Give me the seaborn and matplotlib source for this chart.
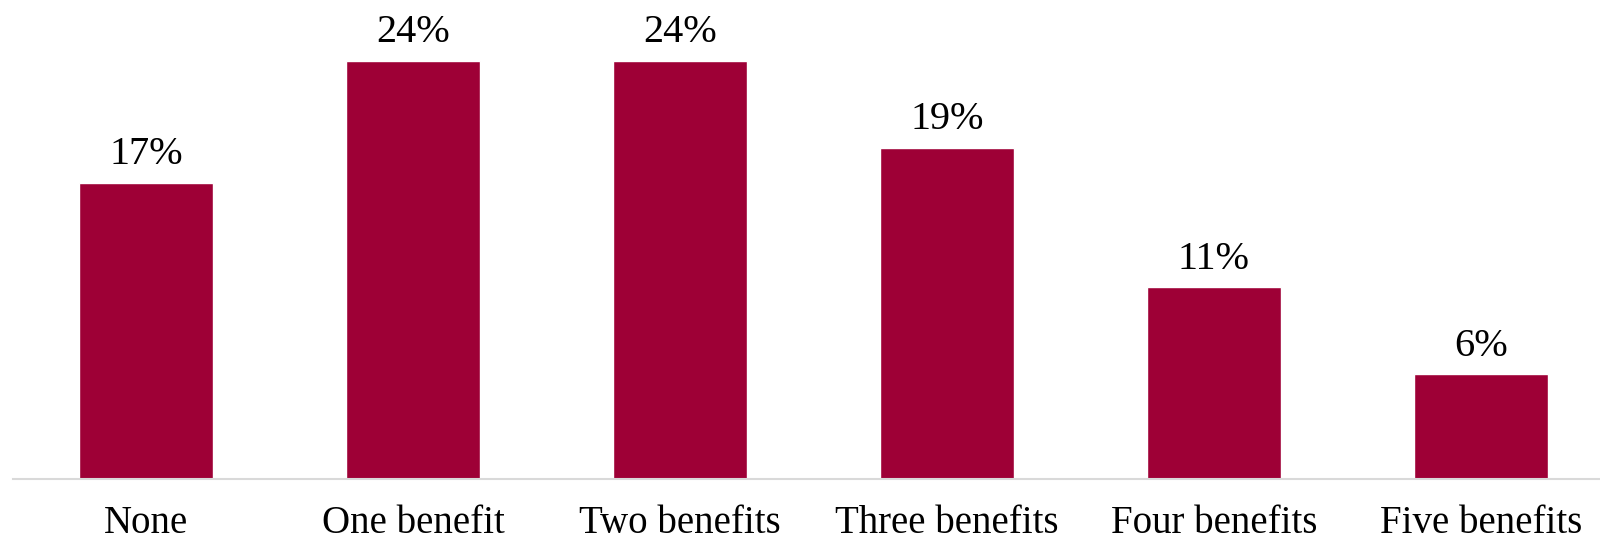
import matplotlib
matplotlib.use("Agg")
import matplotlib.pyplot as plt
import pandas as pd
import seaborn as sns

categories = ["None", "One benefit", "Two benefits", "Three benefits", "Four benefits", "Five benefits"]
shares = [17, 24, 24, 19, 11, 6]
value_labels = ["17%", "24%", "24%", "19%", "11%", "6%"]

BAR_COLOR = "#9E0036"

sns.set_style("white")
plt.rcParams["font.family"] = ["Liberation Serif", "DejaVu Serif"]
plt.rcParams["text.color"] = "black"
plt.rcParams["xtick.color"] = "black"

df = pd.DataFrame({"category": categories, "share": shares})

fig = plt.figure(figsize=(16, 5.43), dpi=100)
# axis line sits at ~479px from the top, plot runs off the right edge
ax = fig.add_axes([12.5 / 1600, 64 / 543, 1 - 12.5 / 1600, 479 / 543])

sns.barplot(data=df, x="category", y="share", color=BAR_COLOR, saturation=1,
            width=0.5, ax=ax)

ax.set_xlim(-0.5, 5.446)
ax.set_ylim(0, 27.5)

for container in ax.containers:
    ax.bar_label(container, labels=value_labels, padding=7, fontsize=29, color="black")

ax.set_xlabel("")
ax.set_ylabel("")
ax.set_yticks([])
# category labels hug the bottom edge, as in the source
ax.tick_params(axis="x", length=0, pad=19, labelsize=28, labelcolor="black")

for side in ["top", "left", "right"]:
    ax.spines[side].set_visible(False)
ax.spines["bottom"].set_color("#D9D9D9")
ax.spines["bottom"].set_linewidth(1.5)

fig.savefig("out.png", dpi=100)
